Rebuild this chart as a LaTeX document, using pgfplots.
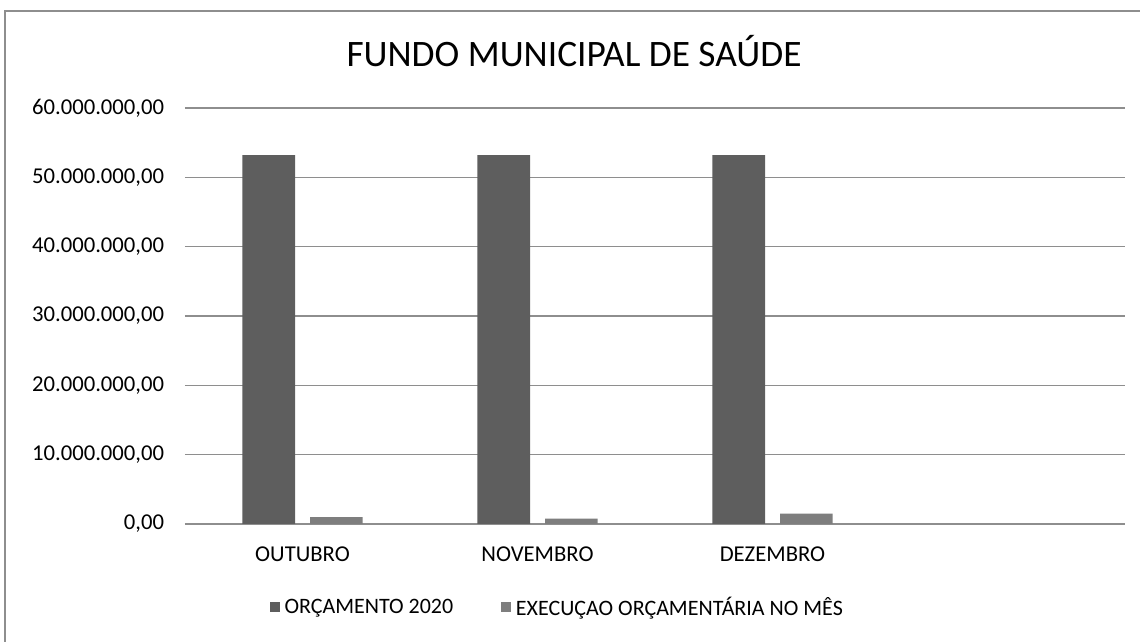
\documentclass[border=0pt]{standalone}
\usepackage{fontspec}
\setmainfont{Carlito}
\usepackage{pgfplots}
\pgfplotsset{compat=1.18}
\definecolor{barA}{HTML}{5E5E5E}
\definecolor{barB}{HTML}{7E7E7E}
\definecolor{gridc}{HTML}{8E8E8E}
\begin{document}
\begin{tikzpicture}[x=0.75pt,y=0.75pt]
\useasboundingbox (0,0) rectangle (1140,642);
\draw[gridc, line width=0.8pt] (5,0) -- (5,631) -- (1140,631);
\node[anchor=base, inner sep=0pt, font=\fontsize{28}{33}\selectfont] at (574,575) {FUNDO MUNICIPAL DE SAÚDE};
\begin{axis}[
  at={(138.75pt,88.5pt)}, anchor=south west,
  scale only axis, width=705pt, height=312pt,
  ybar=11.25pt, bar width=39.5pt,
  xmin=-0.5, xmax=3.5, ymin=0, ymax=60000000,
  xtick={0,1,2}, xticklabels={OUTUBRO,NOVEMBRO,DEZEMBRO},
  ytick={0,10000000,20000000,30000000,40000000,50000000,60000000},
  yticklabels={{0,00},{10.000.000,00},{20.000.000,00},{30.000.000,00},{40.000.000,00},{50.000.000,00},{60.000.000,00}},
  scaled y ticks=false,
  major tick length=0pt,
  axis line style={draw=none},
  ymajorgrids, grid style={gridc, line width=0.9pt},
  tick label style={font=\fontsize{17}{20}\selectfont},
  yticklabel style={inner sep=0pt, xshift=-15.5pt},
  xticklabel style={inner sep=0pt, yshift=-17pt},
  legend columns=2,
  legend image code/.code={\fill[#1] (0pt,-3.75pt) rectangle (7.5pt,3.75pt);},
  legend style={draw=none, fill=none, inner sep=0pt,
    font=\fontsize{16.5}{20}\selectfont,
    at={(axis description cs:0.09,-0.1995)}, anchor=west,
    /tikz/every even column/.append style={column sep=34pt},
    /tikz/every odd column/.append style={column sep=1.5pt}},
]
\addplot[fill=barA, draw=none] coordinates {(0,53200000) (1,53200000) (2,53200000)};
\addplot[fill=barB, draw=none] coordinates {(0,1000000) (1,770000) (2,1490000)};
\legend{ORÇAMENTO 2020, EXECUÇAO ORÇAMENTÁRIA NO MÊS}
\end{axis}
\end{tikzpicture}
\end{document}
